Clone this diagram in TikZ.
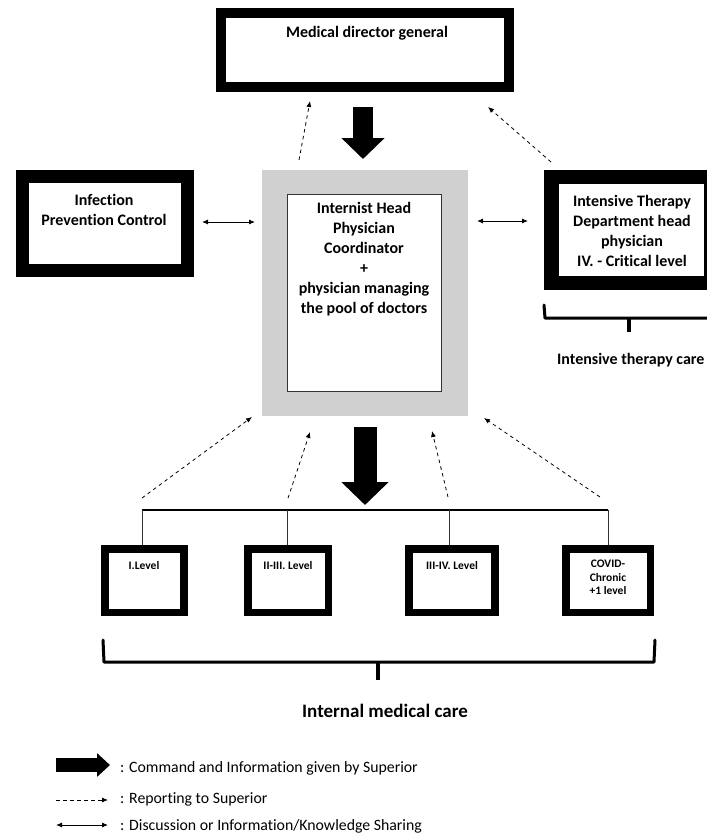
\documentclass[tikz,border=0pt]{standalone}
\usepackage{fontspec}
\setmainfont{Carlito}[Ligatures=CommonOff]
\usetikzlibrary{arrows.meta}
\definecolor{boxgray}{RGB}{208,208,208}
\tikzset{
  heavybox/.style={draw=black, fill=white, inner sep=0pt},
  lbl/.style={font=\bfseries\fontsize{16}{20}\selectfont, align=center, inner sep=0pt},
  smalllbl/.style={font=\bfseries\fontsize{11.5}{13.5}\selectfont, align=center, inner sep=0pt},
  legendlbl/.style={font=\fontsize{15.8}{18}\selectfont, anchor=west, inner sep=0pt},
  command/.style={draw=black, -{Triangle[length=21pt,width=42pt]}},
  report/.style={draw=black, line width=0.8pt, dash pattern=on 3.5pt off 3.5pt, -{Latex[length=6pt,width=5pt]}},
  share/.style={draw=black, line width=0.9pt, {Latex[length=6pt,width=5pt]}-{Latex[length=6pt,width=5pt]}},
  brace/.style={draw=black, line width=3pt, line join=round, line cap=round},
}
\begin{document}
\begin{tikzpicture}[x=1pt,y=-1pt]
\useasboundingbox (0,0) rectangle (707,836);

% Medical director general
\node[heavybox, line width=10.5pt, minimum width=288pt, minimum height=74pt] (mdg) at (364.75,50) {};
\node[lbl] (mdgt) at (367,33) {Medical director general};

% central coordinator box
\node[fill=boxgray, inner sep=0pt, minimum width=206pt, minimum height=246pt] (cen) at (365,293) {};
\node[draw=black!80, fill=white, line width=0.8pt, inner sep=0pt, minimum width=154pt, minimum height=197pt] (ceni) at (364,292.5) {};
\node[lbl] (cent) at (364,259) {Internist Head\\Physician\\Coordinator\\+\\physician managing\\the pool of doctors};

% Infection prevention control
\node[heavybox, line width=13pt, minimum width=165.5pt, minimum height=94pt] (ipc) at (104.75,223) {};
\node[lbl] (ipct) at (104,210) {Infection\\Prevention Control};

% Intensive therapy
\node[heavybox, line width=14.5pt, minimum width=159.5pt, minimum height=106pt] (itd) at (631.25,230) {};
\node[lbl] (itdt) at (632,231) {Intensive Therapy\\Department head\\physician\\IV. - Critical level};

% brace under intensive therapy
\draw[brace] (544,305) -- (545,318) -- (720,318);
\draw[black, line width=4pt] (629,318) -- (629,332);
\node[lbl, anchor=west] (itc) at (557,360) {Intensive therapy care};

% command arrows
\coordinate (c1s) at (363,107);
\coordinate (c1e) at (363,159);
\draw[command, line width=20pt] (c1s) -- (c1e);
\coordinate (c2s) at (365,427);
\coordinate (c2e) at (365,505);
\draw[command, line width=23pt, -{Triangle[length=23pt,width=46pt]}] (c2s) -- (c2e);

% reporting to medical director
\coordinate (r1s) at (299,160);
\coordinate (r1e) at (310,101);
\draw[report] (r1s) -- (r1e);
\coordinate (r2s) at (551,162);
\coordinate (r2e) at (488,107);
\draw[report] (r2s) -- (r2e);

% sharing arrows
\coordinate (s1a) at (202,222);
\coordinate (s1b) at (255,222);
\draw[share] (s1a) -- (s1b);
\coordinate (s2a) at (477,221);
\coordinate (s2b) at (528,221);
\draw[share] (s2a) -- (s2b);

% level boxes
\node[heavybox, line width=7.5pt, minimum width=79pt, minimum height=63.5pt] (b1) at (144.5,580.5) {};
\node[heavybox, line width=7.5pt, minimum width=80.5pt, minimum height=63.5pt] (b2) at (288,580.5) {};
\node[heavybox, line width=7.5pt, minimum width=86pt, minimum height=63.5pt] (b3) at (452,580.5) {};
\node[heavybox, line width=7.5pt, minimum width=84.5pt, minimum height=63.5pt] (b4) at (608.25,580.5) {};
\node[smalllbl] (b1t) at (144,565) {I.Level};
\node[smalllbl] (b2t) at (288,565) {II-III. Level};
\node[smalllbl] (b3t) at (452,565) {III-IV. Level};
\node[smalllbl] (b4t) at (608,577.5) {COVID-\\Chronic\\+1 level};

% bus
\coordinate (busl) at (142,510);
\coordinate (busr) at (608,510);
\draw[black, line width=2pt] (busl) -- (busr);
\draw[black!80, line width=0.8pt] (142,510) -- (b1.north -| 142,0);
\draw[black!80, line width=0.8pt] (287,510) -- (b2.north -| 287,0);
\draw[black!80, line width=0.8pt] (449,510) -- (b3.north -| 449,0);
\draw[black!80, line width=0.8pt] (608,510) -- (b4.north -| 608,0);

% reporting from levels
\coordinate (l1s) at (142,498);
\coordinate (l1e) at (252,417);
\draw[report] (l1s) -- (l1e);
\coordinate (l2s) at (288,498);
\coordinate (l2e) at (310,432);
\draw[report] (l2s) -- (l2e);
\coordinate (l3s) at (448,497);
\coordinate (l3e) at (432,431);
\draw[report] (l3s) -- (l3e);
\coordinate (l4s) at (600,497);
\coordinate (l4e) at (484,418);
\draw[report] (l4s) -- (l4e);

% big brace
\draw[brace] (103,640) -- (104,662) -- (654,662) -- (655,640);
\draw[black, line width=4pt] (378,662) -- (378,680);
\node[lbl, font=\bfseries\fontsize{19}{22}\selectfont] (imc) at (385,711) {Internal medical care};

% legend
\coordinate (g1s) at (56,765);
\coordinate (g1e) at (110,765);
\draw[command, line width=14pt, -{Triangle[length=13pt,width=23pt]}] (g1s) -- (g1e);
\node[legendlbl] (g1t) at (120,768) {: Command and Information given by Superior};
\coordinate (g2s) at (56,800);
\coordinate (g2e) at (108,800);
\draw[report] (g2s) -- (g2e);
\node[legendlbl] (g2t) at (120,799) {: Reporting to Superior};
\coordinate (g3s) at (56,825);
\coordinate (g3e) at (108,825);
\draw[share] (g3s) -- (g3e);
\node[legendlbl] (g3t) at (120,826) {: Discussion or Information/Knowledge Sharing};
\end{tikzpicture}
\end{document}
